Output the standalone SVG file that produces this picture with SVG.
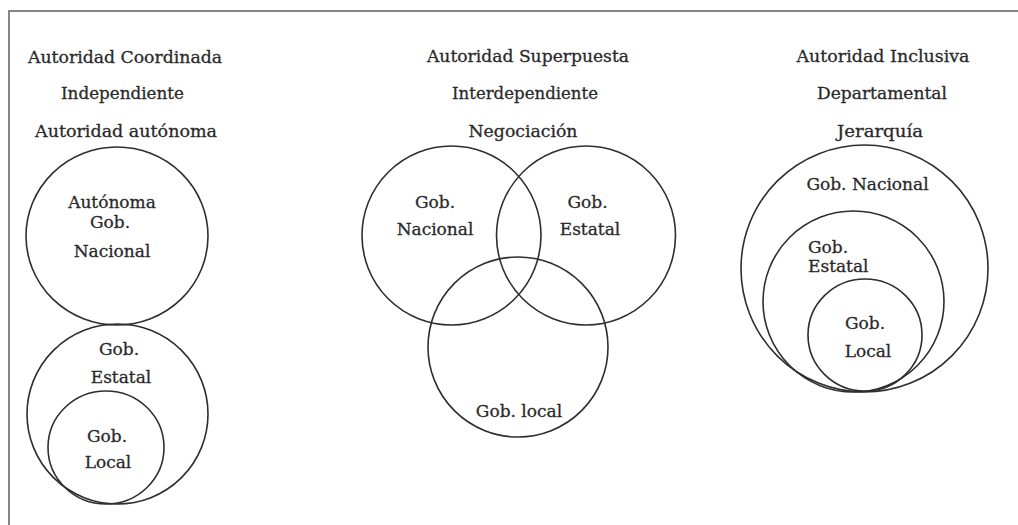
<svg xmlns="http://www.w3.org/2000/svg" width="1018" height="525" viewBox="0 0 1018 525">
<style>
  .frame { fill: none; stroke: #858585; stroke-width: 2; }
  .c { fill: none; stroke: #2e2e2e; stroke-width: 1.6; }
  text { font-family: "DejaVu Serif", "Liberation Serif", serif; font-size: 17px; fill: #2a2a2a; stroke: #2a2a2a; stroke-width: 0.3; text-anchor: middle; }
  .l { text-anchor: start; }
</style>
<rect width="1018" height="525" fill="#ffffff"/>
<g id="frame">
  <path class="frame" d="M1018 11 H9 V525"/>
</g>
<g id="headers">
  <text x="125" y="63" textLength="194" lengthAdjust="spacingAndGlyphs">Autoridad Coordinada</text>
  <text x="122.5" y="99" textLength="123" lengthAdjust="spacingAndGlyphs">Independiente</text>
  <text x="126" y="137" textLength="182" lengthAdjust="spacingAndGlyphs">Autoridad autónoma</text>
  <text x="528" y="62" textLength="202" lengthAdjust="spacingAndGlyphs">Autoridad Superpuesta</text>
  <text x="525" y="99" textLength="146" lengthAdjust="spacingAndGlyphs">Interdependiente</text>
  <text x="523" y="137" textLength="109" lengthAdjust="spacingAndGlyphs">Negociación</text>
  <text x="883" y="62" textLength="173" lengthAdjust="spacingAndGlyphs">Autoridad Inclusiva</text>
  <text x="882" y="99" textLength="130" lengthAdjust="spacingAndGlyphs">Departamental</text>
  <text x="880" y="137" textLength="86" lengthAdjust="spacingAndGlyphs">Jerarquía</text>
</g>
<g id="coord-nacional">
  <ellipse class="c" cx="117" cy="236" rx="91" ry="89"/>
  <text x="112" y="208">Autónoma</text>
  <text x="110" y="228">Gob.</text>
  <text x="112" y="257">Nacional</text>
</g>
<g id="coord-estatal">
  <ellipse class="c" cx="117.5" cy="414" rx="90.5" ry="90"/>
  <text x="119" y="355">Gob.</text>
  <text x="121" y="383">Estatal</text>
</g>
<g id="coord-local">
  <ellipse class="c" cx="106" cy="447.5" rx="58" ry="56.5"/>
  <text x="107" y="442">Gob.</text>
  <text x="108" y="468">Local</text>
</g>
<g id="super-nacional">
  <circle class="c" cx="451.5" cy="235.5" r="89.5"/>
  <text x="435" y="208">Gob.</text>
  <text x="435" y="235">Nacional</text>
</g>
<g id="super-estatal">
  <circle class="c" cx="586" cy="235.5" r="89.5"/>
  <text x="587.5" y="208">Gob.</text>
  <text x="590" y="235">Estatal</text>
</g>
<g id="super-local">
  <circle class="c" cx="518" cy="347" r="90"/>
  <text x="519" y="417">Gob. local</text>
</g>
<g id="incl-nacional">
  <circle class="c" cx="864.5" cy="268.5" r="123.5"/>
  <text x="867.5" y="190">Gob. Nacional</text>
</g>
<g id="incl-estatal">
  <circle class="c" cx="853.5" cy="301.5" r="90.5"/>
  <text class="l" x="808" y="253">Gob.</text>
  <text class="l" x="808" y="272">Estatal</text>
</g>
<g id="incl-local">
  <ellipse class="c" cx="865" cy="335" rx="57" ry="56"/>
  <text x="865" y="329">Gob.</text>
  <text x="868" y="357">Local</text>
</g>
<g id="connectors"></g>
</svg>
